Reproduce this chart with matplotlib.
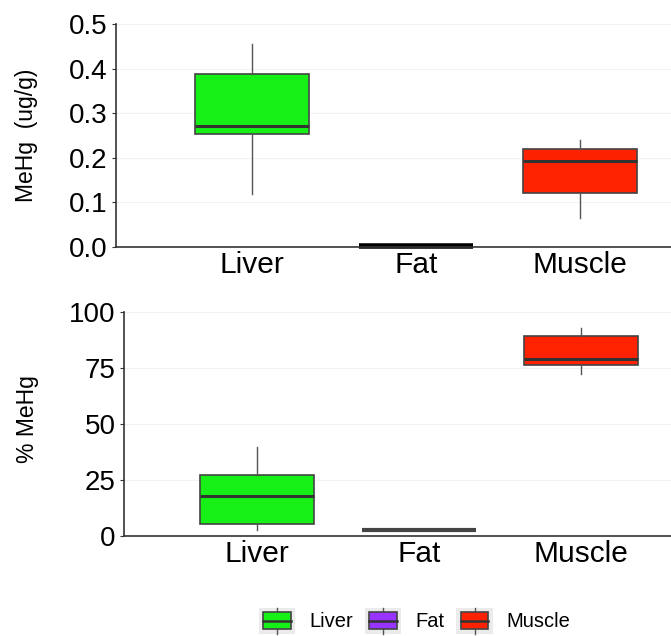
import matplotlib
matplotlib.use('Agg')
import matplotlib.pyplot as plt
from matplotlib.patches import Rectangle
from matplotlib.lines import Line2D
from matplotlib.legend_handler import HandlerBase

plt.rcParams['font.family'] = ['Liberation Sans', 'DejaVu Sans']

tissues = ['Liver', 'Fat', 'Muscle']
colors = ['#16f016', '#9933ff', '#ff2200']

# MeHg concentration (ug/g): whislo, q1, med, q3, whishi
conc_whislo = [0.12, 0.003, 0.065]
conc_q1 = [0.254, 0.003, 0.121]
conc_med = [0.272, 0.003, 0.192]
conc_q3 = [0.389, 0.003, 0.220]
conc_whishi = [0.455, 0.003, 0.240]

# percent MeHg of total Hg
pct_whislo = [2.5, 2.5, 72.0]
pct_q1 = [5.1, 2.5, 76.0]
pct_med = [17.6, 2.5, 79.0]
pct_q3 = [27.1, 2.5, 89.3]
pct_whishi = [39.7, 2.5, 92.6]

conc_ticks = [0.0, 0.1, 0.2, 0.3, 0.4, 0.5]
conc_ticklabels = ['0.0', '0.1', '0.2', '0.3', '0.4', '0.5']
pct_ticks = [0, 25, 50, 75, 100]


def draw_boxes(ax, whislo, q1, med, q3, whishi, flat_color, flat_lw):
    for i in range(len(tissues)):
        st = dict(whislo=whislo[i], q1=q1[i], med=med[i], q3=q3[i],
                  whishi=whishi[i], fliers=[])
        flat = q1[i] == q3[i]
        art = ax.bxp([st], positions=[i + 1], widths=0.7, patch_artist=True,
                     showcaps=False, showfliers=False,
                     boxprops=dict(facecolor=colors[i], edgecolor='#444444', lw=1.2),
                     whiskerprops=dict(color='#555555', lw=1.0),
                     medianprops=dict(color=flat_color if flat else '#333333',
                                      lw=flat_lw if flat else 2.2,
                                      solid_capstyle='butt'))
        for group in art.values():
            for a in group:
                a.set_clip_on(False)


def style_axis(ax):
    for s in ['top', 'right']:
        ax.spines[s].set_visible(False)
    for s in ['left', 'bottom']:
        ax.spines[s].set_color('#333333')
        ax.spines[s].set_linewidth(1.2)
    ax.yaxis.grid(True, color='#f2f2f2', lw=0.8)
    ax.set_axisbelow(True)
    ax.tick_params(axis='x', length=0, labelsize=21.5, pad=3)
    ax.tick_params(axis='y', length=3, width=0.8, color='#333333', labelsize=20, pad=3)
    ax.set_xticks([1, 2, 3])
    ax.set_xticklabels(tissues)


fig = plt.figure(figsize=(6.71, 6.36), dpi=100)

ax1 = fig.add_axes([0.1729, 0.6116, 0.8271, 0.3506])
draw_boxes(ax1, conc_whislo, conc_q1, conc_med, conc_q3, conc_whishi, 'black', 4.0)
ax1.set_xlim(0.171, 3.555)
ax1.set_ylim(0, 0.5)
ax1.set_yticks(conc_ticks)
ax1.set_yticklabels(conc_ticklabels)
style_axis(ax1)
ax1.set_ylabel('MeHg  (ug/g)', fontsize=16.5)
ax1.yaxis.set_label_coords(-0.14, 0.5)

ax2 = fig.add_axes([0.1848, 0.1577, 0.8152, 0.3522])
draw_boxes(ax2, pct_whislo, pct_q1, pct_med, pct_q3, pct_whishi, '#444444', 3.0)
ax2.set_xlim(0.179, 3.556)
ax2.set_ylim(0, 100)
ax2.set_yticks(pct_ticks)
style_axis(ax2)
ax2.set_ylabel('% MeHg', fontsize=16.5)
ax2.yaxis.set_label_coords(-0.155, 0.52)


class BoxKeyHandler(HandlerBase):
    def create_artists(self, legend, orig_handle, xdescent, ydescent,
                       width, height, fontsize, trans):
        x0, y0 = -xdescent, -ydescent
        bg = Rectangle((x0, y0), width, height, facecolor='#ebebeb',
                       edgecolor='none', transform=trans)
        cx = x0 + width / 2
        whisk = Line2D([cx, cx], [y0, y0 + height], color='#555555', lw=1.0,
                       transform=trans)
        bx = Rectangle((x0 + width * 0.12, y0 + height * 0.18), width * 0.76,
                       height * 0.64, facecolor=orig_handle.get_facecolor(),
                       edgecolor='#444444', lw=1.2, transform=trans)
        med = Line2D([x0 + width * 0.12, x0 + width * 0.88],
                     [y0 + height / 2, y0 + height / 2], color='#333333', lw=1.8,
                     transform=trans)
        return [bg, whisk, bx, med]


handles = [Rectangle((0, 0), 1, 1, facecolor=c) for c in colors]
fig.legend(handles, tissues, handler_map={Rectangle: BoxKeyHandler()},
           loc='center', bbox_to_anchor=(0.618, 0.024), ncol=3, frameon=False,
           fontsize=14.5, handlelength=1.8, handleheight=1.6,
           handletextpad=0.7, columnspacing=0.6, borderaxespad=0.2)

fig.savefig('out.png', dpi=100)
